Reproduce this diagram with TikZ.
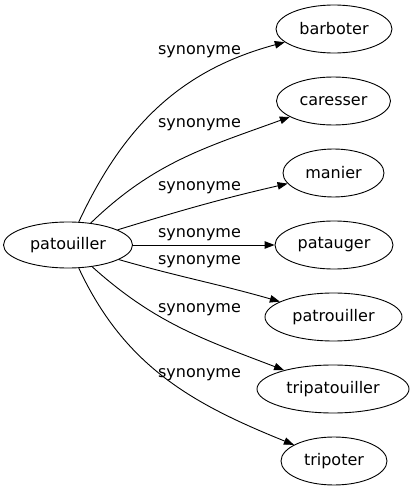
\documentclass[tikz,border=0pt]{standalone}
\usepackage{fontspec}
\setmainfont{DejaVu Sans}
\usetikzlibrary{arrows.meta,shapes.geometric}
\begin{document}
\begin{tikzpicture}[x=1pt,y=1pt,
  word/.style={ellipse,draw,line width=0.9pt,inner sep=0pt,minimum height=48pt,font=\fontsize{16}{19}\selectfont},
  rel/.style={font=\fontsize{16}{19}\selectfont,inner sep=0pt},
  syn/.style={draw,line width=0.9pt,-{Triangle[length=10pt,width=7.5pt]}}]
\useasboundingbox (0,0) rectangle (415,491);
\node[word,minimum width=129pt,minimum height=46pt] (s) at (68,246) {patouiller};
\node[word,minimum width=116pt] (t1) at (334,462) {barboter};
\node[word,minimum width=114pt] (t2) at (333.5,390) {caresser};
\node[word,minimum width=101pt] (t3) at (333.5,318) {manier};
\node[word,minimum width=118pt] (t4) at (334,246) {patauger};
\node[word,minimum width=137pt] (t5) at (333.5,174) {patrouiller};
\node[word,minimum width=152pt] (t6) at (333,102) {tripatouiller};
\node[word,minimum width=106pt] (t7) at (334,30) {tripoter};
\draw[syn] (s) to[out=65,in=195] (t1);
\draw[syn] (s) to[out=44,in=200] (t2);
\draw[syn] (s) to[out=17,in=193] (t3);
\draw[syn] (s) -- (t4);
\draw[syn] (s) to[out=-16,in=164] (t5);
\draw[syn] (s) to[out=-42,in=159] (t6);
\draw[syn] (s) to[out=-65,in=158] (t7);
\node[rel] (l1) at (199.5,439) {synonyme};
\node[rel] (l2) at (199.5,366) {synonyme};
\node[rel] (l3) at (199.5,303) {synonyme};
\node[rel] (l4) at (199.5,256) {synonyme};
\node[rel] (l5) at (199.5,229) {synonyme};
\node[rel] (l6) at (199.5,181) {synonyme};
\node[rel] (l7) at (199.5,116) {synonyme};
\end{tikzpicture}
\end{document}
